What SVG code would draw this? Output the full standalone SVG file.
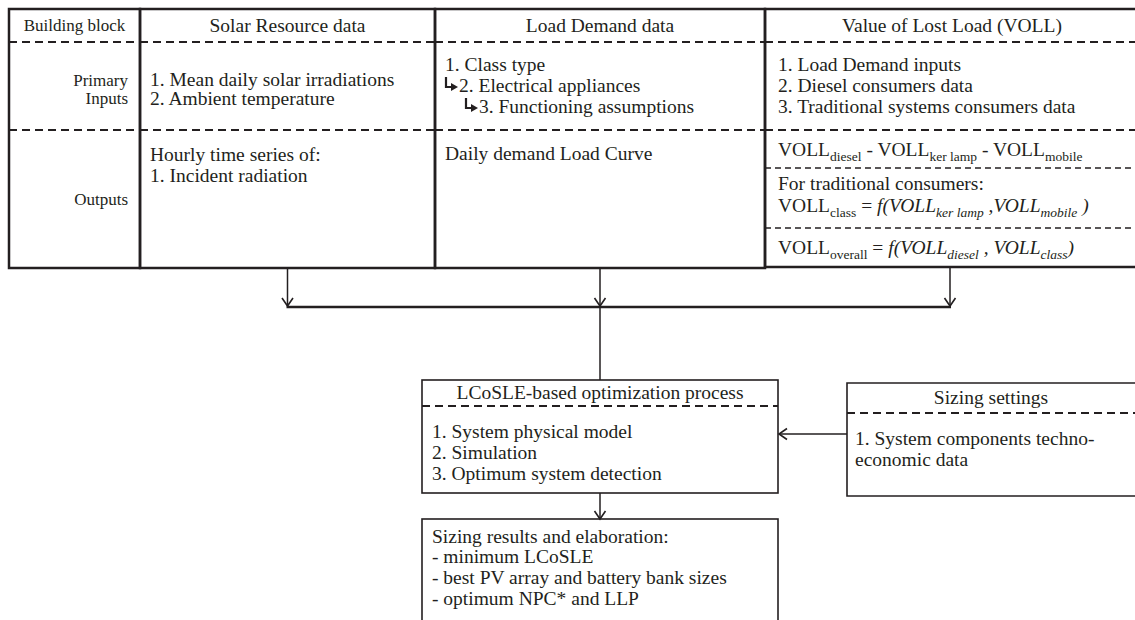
<svg xmlns="http://www.w3.org/2000/svg" width="1135" height="620" viewBox="0 0 1135 620">
<style>
.t{font-family:"Liberation Serif","Times New Roman",serif;font-size:19.5px;fill:#231f20}
.s{font-size:17px}
.sub{font-size:13.5px}
.it{font-style:italic}
.mid{text-anchor:middle}
.end{text-anchor:end}
.thick{stroke:#231f20;stroke-width:2.5;fill:none}
.box{stroke:#231f20;stroke-width:1.6;fill:none}
.dash{stroke:#231f20;stroke-width:2;stroke-dasharray:8 5;fill:none}
.dash2{stroke:#231f20;stroke-width:1.3;stroke-dasharray:6 4;fill:none}
.ln{stroke:#231f20;stroke-width:1.5;fill:none}
.hook{stroke:#231f20;stroke-width:2.2;fill:none}
</style>
<defs>
<marker id="arr" markerUnits="userSpaceOnUse" markerWidth="14" markerHeight="14" refX="10" refY="7" orient="auto">
<path d="M2,1.5 L10,7 L2,12.5" stroke="#231f20" stroke-width="1.6" fill="none"/>
</marker>
</defs>
<rect width="1135" height="620" fill="#fff"/>

<g id="building-block">
<rect x="9" y="9" width="131" height="259" class="thick"/>
<line x1="9" y1="42" x2="140" y2="42" class="dash"/>
<line x1="9" y1="130" x2="140" y2="130" class="dash"/>
<text class="t s mid" x="74.5" y="31">Building block</text>
<text class="t s end" x="128" y="86">Primary</text>
<text class="t s end" x="128" y="104">Inputs</text>
<text class="t s end" x="128" y="205">Outputs</text>
</g>

<g id="solar">
<rect x="140" y="9" width="295" height="259" class="thick"/>
<line x1="140" y1="42" x2="435" y2="42" class="dash"/>
<line x1="140" y1="130" x2="435" y2="130" class="dash"/>
<text class="t mid" x="287.5" y="32">Solar Resource data</text>
<text class="t" x="150" y="86">1. Mean daily solar irradiations</text>
<text class="t" x="150" y="105">2. Ambient temperature</text>
<text class="t" x="150" y="161">Hourly time series of:</text>
<text class="t" x="150" y="182">1. Incident radiation</text>
</g>

<g id="load">
<rect x="435" y="9" width="330" height="259" class="thick"/>
<line x1="435" y1="42" x2="765" y2="42" class="dash"/>
<line x1="435" y1="130" x2="765" y2="130" class="dash"/>
<text class="t mid" x="600" y="32">Load Demand data</text>
<text class="t" x="445" y="71">1. Class type</text>
<path class="hook" d="M446,77 V87 H452"/>
<polygon points="451,83 458,87 451,91" fill="#231f20"/>
<text class="t" x="459" y="92">2. Electrical appliances</text>
<path class="hook" d="M466,98 V108 H472"/>
<polygon points="471,104 478,108 471,112" fill="#231f20"/>
<text class="t" x="479" y="113">3. Functioning assumptions</text>
<text class="t" x="445" y="160">Daily demand Load Curve</text>
</g>

<g id="voll">
<path class="thick" d="M1140,9 H765 V267 H1140"/>
<line x1="765" y1="42" x2="1135" y2="42" class="dash"/>
<line x1="765" y1="130" x2="1135" y2="130" class="dash"/>
<line x1="765" y1="168" x2="1135" y2="168" class="dash2"/>
<line x1="765" y1="228" x2="1135" y2="228" class="dash2"/>
<text class="t mid" x="952" y="32">Value of Lost Load (VOLL)</text>
<text class="t" x="778" y="71">1. Load Demand inputs</text>
<text class="t" x="778" y="92">2. Diesel consumers data</text>
<text class="t" x="778" y="113">3. Traditional systems consumers data</text>
<text class="t" x="778" y="156">VOLL<tspan class="sub" dy="5">diesel</tspan><tspan dy="-5"> - VOLL</tspan><tspan class="sub" dy="5">ker lamp</tspan><tspan dy="-5"> - VOLL</tspan><tspan class="sub" dy="5">mobile</tspan></text>
<text class="t" x="778" y="190">For traditional consumers:</text>
<text class="t" x="778" y="212">VOLL<tspan class="sub" dy="5">class</tspan><tspan dy="-5"> = </tspan><tspan class="it">f(VOLL</tspan><tspan class="sub it" dy="5">ker lamp</tspan><tspan class="it" dy="-5"> ,VOLL</tspan><tspan class="sub it" dy="5">mobile</tspan><tspan class="it" dy="-5"> )</tspan></text>
<text class="t" x="778" y="254">VOLL<tspan class="sub" dy="5">overall</tspan><tspan dy="-5"> = </tspan><tspan class="it">f(VOLL</tspan><tspan class="sub it" dy="5">diesel</tspan><tspan class="it" dy="-5"> , VOLL</tspan><tspan class="sub it" dy="5">class</tspan><tspan class="it" dy="-5">)</tspan></text>
</g>

<g id="connectors">
<line x1="287.5" y1="268" x2="287.5" y2="306" class="ln" marker-end="url(#arr)"/>
<line x1="600" y1="268" x2="600" y2="306" class="ln" marker-end="url(#arr)"/>
<line x1="950" y1="267" x2="950" y2="306" class="ln" marker-end="url(#arr)"/>
<line x1="286.5" y1="307" x2="951" y2="307" class="thick"/>
<line x1="600" y1="307" x2="600" y2="380" class="ln"/>
<line x1="847" y1="434" x2="779" y2="434" class="ln" marker-end="url(#arr)"/>
<line x1="600" y1="493" x2="600" y2="519" class="ln" marker-end="url(#arr)"/>
</g>

<g id="lcosle">
<rect x="422" y="380" width="356" height="113" class="box"/>
<line x1="422" y1="406" x2="778" y2="406" class="dash"/>
<text class="t mid" x="600" y="399">LCoSLE-based optimization process</text>
<text class="t" x="432" y="438">1. System physical model</text>
<text class="t" x="432" y="459">2. Simulation</text>
<text class="t" x="432" y="480">3. Optimum system detection</text>
</g>

<g id="sizing">
<path class="box" d="M1140,383 H847 V496 H1140"/>
<line x1="847" y1="413" x2="1135" y2="413" class="dash"/>
<text class="t mid" x="991" y="404">Sizing settings</text>
<text class="t" x="855" y="445">1. System components techno-</text>
<text class="t" x="855" y="466">economic data</text>
</g>

<g id="results">
<rect x="422" y="519" width="356" height="120" class="box"/>
<text class="t" x="432" y="543">Sizing results and elaboration:</text>
<text class="t" x="432" y="563">- minimum LCoSLE</text>
<text class="t" x="432" y="584">- best PV array and battery bank sizes</text>
<text class="t" x="432" y="605">- optimum NPC* and LLP</text>
</g>
</svg>
